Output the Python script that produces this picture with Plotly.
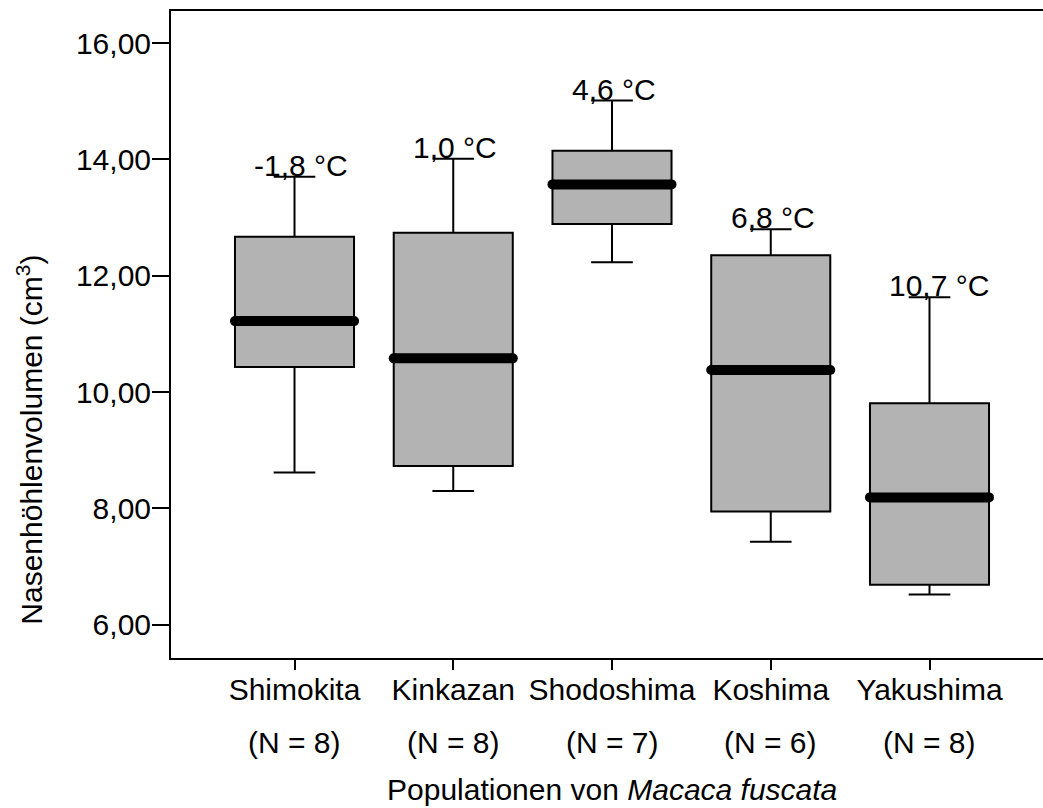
import plotly.graph_objects as go

# Nasal cavity volume (cm³) per Japanese macaque population
populations = ["Shimokita", "Kinkazan", "Shodoshima", "Koshima", "Yakushima"]
sample_sizes = [8, 8, 7, 6, 8]
temperatures = ["-1,8 °C", "1,0 °C", "4,6 °C", "6,8 °C", "10,7 °C"]

lower_whisker = [8.62, 8.30, 12.23, 7.43, 6.52]
q1_values = [10.43, 8.73, 12.89, 7.95, 6.69]
median_values = [11.22, 10.58, 13.57, 10.38, 8.19]
q3_values = [12.67, 12.74, 14.15, 12.35, 9.81]
upper_whisker = [13.70, 14.01, 15.01, 12.80, 11.63]

y_tick_values = [6, 8, 10, 12, 14, 16]
y_tick_labels = ["6,00", "8,00", "10,00", "12,00", "14,00", "16,00"]

FONT = "Arial, 'Liberation Sans', sans-serif"
positions = list(range(len(populations)))
box_half = 0.375

fig = go.Figure()

fig.add_trace(go.Box(
    x=positions,
    q1=q1_values,
    median=median_values,
    q3=q3_values,
    lowerfence=lower_whisker,
    upperfence=upper_whisker,
    width=2 * box_half,
    whiskerwidth=0.35,
    fillcolor="#b3b3b3",
    line=dict(color="black", width=2),
    boxpoints=False,
    hoverinfo="skip",
    showlegend=False,
))

# Heavy median bars with rounded ends
med_x, med_y = [], []
for p, m in zip(positions, median_values):
    med_x += [p - box_half, p + box_half, None]
    med_y += [m, m, None]
fig.add_trace(go.Scatter(
    x=med_x, y=med_y, mode="lines+markers",
    line=dict(color="black", width=10),
    marker=dict(color="black", size=10, symbol="circle", line=dict(width=0)),
    hoverinfo="skip", showlegend=False,
))

# Mean annual temperature above each upper whisker
for p, top, label in zip(positions, upper_whisker, temperatures):
    fig.add_annotation(
        x=p - 0.265, y=top, xref="x", yref="y",
        text=label, showarrow=False,
        xanchor="left", yanchor="bottom", yshift=-7,
        font=dict(family=FONT, size=30, color="black"),
    )

# Sample sizes below the category names
for p, n in zip(positions, sample_sizes):
    fig.add_annotation(
        x=p, y=-0.131, xref="x", yref="paper",
        text=f"(N = {n})", showarrow=False,
        xanchor="center", yanchor="middle",
        font=dict(family=FONT, size=30, color="black"),
    )

fig.add_annotation(
    x=2, y=-0.2025, xref="x", yref="paper",
    text="Populationen von <i>Macaca fuscata</i>", showarrow=False,
    xanchor="center", yanchor="middle",
    font=dict(family=FONT, size=30, color="black"),
)

fig.add_annotation(
    x=-0.162, y=0.337, xref="paper", yref="paper",
    text="Nasenhöhlenvolumen (cm<sup>3</sup>)", showarrow=False,
    textangle=-90, xanchor="center", yanchor="middle",
    font=dict(family=FONT, size=30, color="black"),
)

fig.update_layout(
    width=1043, height=808,
    margin=dict(l=171, r=0, t=11, b=150),
    paper_bgcolor="white", plot_bgcolor="white",
    font=dict(family=FONT, size=30, color="black"),
    showlegend=False,
)

fig.update_xaxes(
    range=[-0.778, 4.715],
    tickvals=positions, ticktext=populations,
    ticks="outside", ticklen=10, tickwidth=2, tickcolor="black",
    ticklabelstandoff=-6,
    showline=True, linecolor="black", linewidth=2, mirror=True,
    showgrid=False, zeroline=False,
    tickfont=dict(family=FONT, size=30, color="black"),
)

fig.update_yaxes(
    range=[5.43, 16.55],
    tickvals=y_tick_values, ticktext=y_tick_labels,
    ticks="outside", ticklen=17, tickwidth=2, tickcolor="black",
    ticklabelstandoff=-5,
    showline=True, linecolor="black", linewidth=2,
    showgrid=False, zeroline=False,
    tickfont=dict(family=FONT, size=30, color="black"),
)

fig.write_html("out.html")
